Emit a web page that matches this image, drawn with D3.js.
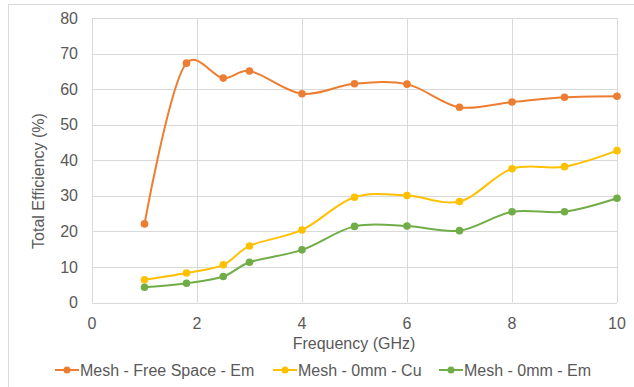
<!DOCTYPE html>
<html lang="en">
<head>
	<meta charset="UTF-8">
	<title>Total Efficiency</title>
	<script src="https://d3js.org/d3.v7.min.js"></script>
	<style>
		body { margin: 0; background: #fff; }
		text { font-family: Arial, 'Liberation Sans', sans-serif; fill: #595959; }
	</style>
</head>
<body>

	<div class="box"></div>

	<script type="text/javascript">
		let width = 634
		let height = 387
		let freq = [1, 1.8, 2.5, 3, 4, 5, 6, 7, 8, 9, 10]
		let freeSpaceEm = [22.1, 67.3, 63.1, 65.1, 58.7, 61.5, 61.4, 54.9, 56.4, 57.7, 58.0]
		let mm0Cu = [6.4, 8.3, 10.6, 15.9, 20.4, 29.6, 30.1, 28.4, 37.6, 38.2, 42.7]
		let mm0Em = [4.3, 5.4, 7.3, 11.3, 14.8, 21.4, 21.5, 20.2, 25.5, 25.5, 29.3]
		let seriesNames = ['Mesh - Free Space - Em', 'Mesh - 0mm - Cu', 'Mesh - 0mm - Em']
		let colors = ['#ED7D31', '#FFC000', '#70AD47']
		let xTicks = [0, 2, 4, 6, 8, 10]
		let yTicks = [0, 10, 20, 30, 40, 50, 60, 70, 80]

		let series = [freeSpaceEm, mm0Cu, mm0Em].map((vals, i) => ({
			name: seriesNames[i],
			color: colors[i],
			points: vals.map((v, j) => ({ x: freq[j], y: v }))
		}))

		let padding = { top: 18, right: 17, bottom: 84.5, left: 92 }
		let svg = d3.select('.box').append('svg').attr('width', width).attr('height', height)

		// chart frame (only top/left edges fall inside the window)
		svg.append('rect')
			.attr('x', 8.5).attr('y', 4.5)
			.attr('width', width + 10).attr('height', height + 10)
			.attr('fill', 'none').attr('stroke', '#d9d9d9')

		let x = d3.scaleLinear().domain([0, 10]).range([padding.left, width - padding.right])
		let y = d3.scaleLinear().domain([0, 80]).range([height - padding.bottom, padding.top])

		// grid
		svg.append('g').selectAll('line').data(yTicks).enter().append('line')
			.attr('x1', x(0)).attr('x2', x(10))
			.attr('y1', d => Math.round(y(d)) + 0.5).attr('y2', d => Math.round(y(d)) + 0.5)
			.attr('stroke', '#d9d9d9').attr('stroke-width', 1)
		svg.append('g').selectAll('line').data(xTicks).enter().append('line')
			.attr('x1', d => Math.round(x(d)) + 0.5).attr('x2', d => Math.round(x(d)) + 0.5)
			.attr('y1', y(0)).attr('y2', y(80))
			.attr('stroke', '#d9d9d9').attr('stroke-width', 1)

		// tick labels
		svg.append('g').selectAll('text').data(yTicks).enter().append('text')
			.attr('x', 78).attr('y', d => y(d)).attr('dy', '0.35em')
			.attr('text-anchor', 'end').attr('font-size', '16px')
			.text(d => d)
		svg.append('g').selectAll('text').data(xTicks).enter().append('text')
			.attr('x', d => x(d)).attr('y', 323).attr('dy', '0.35em')
			.attr('text-anchor', 'middle').attr('font-size', '16px')
			.text(d => d)

		// axis titles
		svg.append('text')
			.attr('transform', 'translate(38,181) rotate(-90)')
			.attr('text-anchor', 'middle').attr('dy', '0.35em').attr('font-size', '16px')
			.text('Total Efficiency (%)')
		svg.append('text')
			.attr('x', 354).attr('y', 343).attr('dy', '0.35em')
			.attr('text-anchor', 'middle').attr('font-size', '16px')
			.text('Frequency (GHz)')

		// lines
		let line = d3.line()
			.x(d => x(d.x)).y(d => y(d.y))
			.curve(d3.curveCatmullRom.alpha(0.25))

		let g = svg.selectAll('.series').data(series).enter().append('g').attr('class', 'series')
		g.append('path')
			.attr('d', d => line(d.points))
			.attr('fill', 'none').attr('stroke', d => d.color).attr('stroke-width', 2)
		g.selectAll('circle').data(d => d.points.map(p => ({ p: p, color: d.color }))).enter()
			.append('circle')
			.attr('cx', d => x(d.p.x)).attr('cy', d => y(d.p.y)).attr('r', 3.8)
			.attr('fill', d => d.color)

		// legend
		let legendX = [55, 273, 439]
		let legend = svg.selectAll('.legend').data(series).enter().append('g')
			.attr('class', 'legend')
			.attr('transform', (d, i) => 'translate(' + legendX[i] + ',370)')
		legend.append('line')
			.attr('x1', 0).attr('x2', 24).attr('y1', 0).attr('y2', 0)
			.attr('stroke', d => d.color).attr('stroke-width', 2)
		legend.append('circle')
			.attr('cx', 12).attr('cy', 0).attr('r', 3.5)
			.attr('fill', d => d.color)
		legend.append('text')
			.attr('x', 25).attr('y', 0).attr('dy', '0.35em').attr('font-size', '16px')
			.text(d => d.name)
	</script>
</body>
</html>
